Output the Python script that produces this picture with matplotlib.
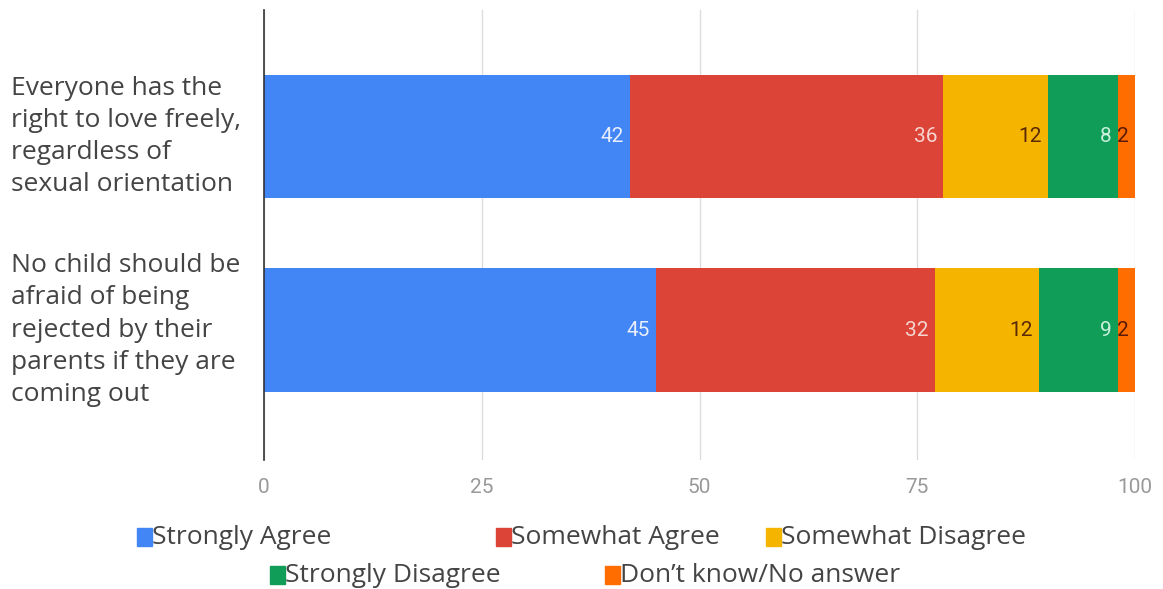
import matplotlib.pyplot as plt
from matplotlib.patches import Rectangle

questions = ["Everyone has the\nright to love freely,\nregardless of\nsexual orientation",
             "No child should be\nafraid of being\nrejected by their\nparents if they are\ncoming out"]
answers = ["Strongly Agree", "Somewhat Agree", "Somewhat Disagree",
           "Strongly Disagree", "Don\u2019t know/No answer"]
values = [[42, 36, 12, 8, 2],
          [45, 32, 12, 9, 2]]
colors = ["#4285F4", "#DB4437", "#F4B400", "#0F9D58", "#FF6D01"]
label_colors = ["#e8eefc", "#f6d6d2", "#5a2a05", "#c8f0dc", "#5a1a05"]
ticks = [0, 25, 50, 75, 100]

plt.rcParams['font.family'] = ['Open Sans', 'DejaVu Sans']

fig = plt.figure(figsize=(11.63, 5.89), dpi=100)
ax = fig.add_axes([0.227, 0.219, 0.749, 0.764])

for i, row in enumerate(values):
    left = 0
    for j, v in enumerate(row):
        ax.barh(i, v, left=left, height=0.636, color=colors[j], zorder=2)
        ax.text(left + v - 0.7, i, str(v), ha='right', va='center',
                fontsize=15, color=label_colors[j], family='Roboto', zorder=3)
        left += v

ax.set_xlim(0, 100)
ax.set_ylim(1.672, -0.654)
ax.set_xticks(ticks)
ax.set_xticklabels([str(t) for t in ticks], family='Roboto', fontsize=15, color='#999999')
ax.xaxis.grid(True, color='#dddddd', linewidth=1, zorder=0)
ax.tick_params(axis='x', length=0, pad=13)
ax.set_yticks([])
for s in ['top', 'right', 'bottom']:
    ax.spines[s].set_visible(False)
ax.spines['left'].set_color('#333333')
ax.spines['left'].set_linewidth(1.2)

# category labels, left aligned
for i, q in enumerate(questions):
    ax.text(-29.0, i, q, ha='left', va='center', fontsize=19, color='#444444',
            linespacing=1.38, transform=ax.transData, clip_on=False)

# legend by hand
legend_pos = [(137, 537), (496, 537), (766, 537), (270, 575), (605, 575)]
W, H = 1163, 589
for (x, y), name, c in zip(legend_pos, answers, colors):
    fig.patches.append(Rectangle((x / W, 1 - (y + 9) / H), 15 / W, 18 / H,
                                 color=c, transform=fig.transFigure))
    fig.text((x + 15) / W, 1 - y / H, name, ha='left', va='center',
             fontsize=19, color='#444444')

fig.savefig('out.png', dpi=100)
